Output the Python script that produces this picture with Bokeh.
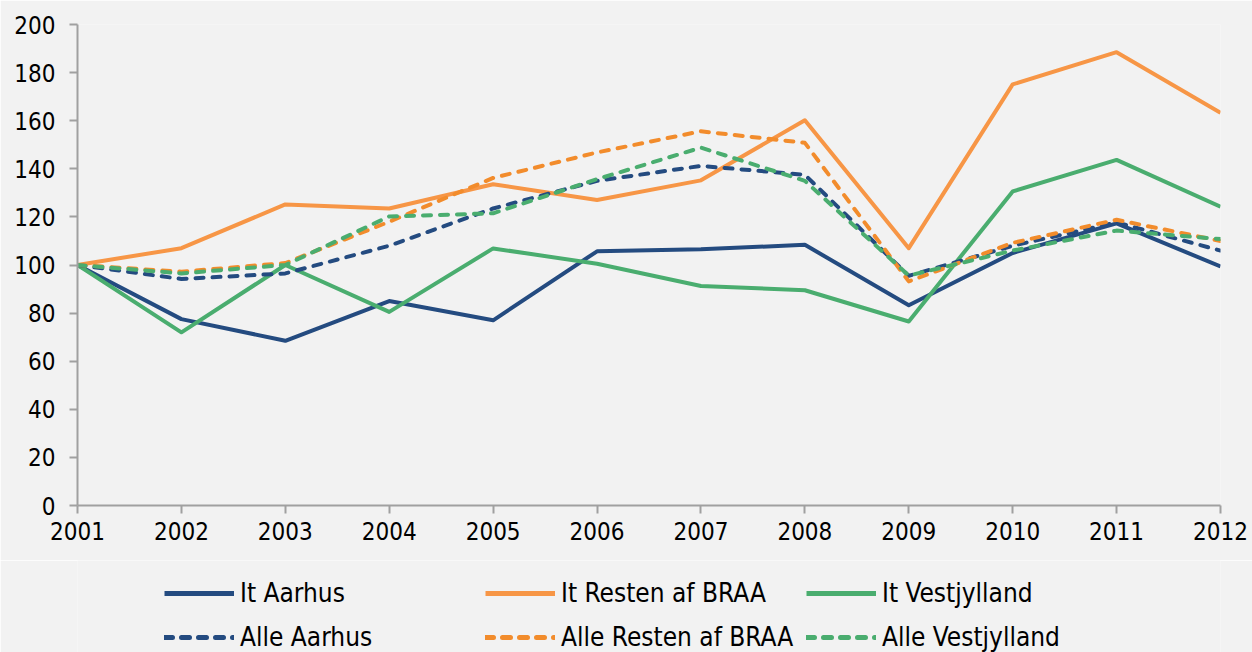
from bokeh.plotting import figure
from bokeh.layouts import column
from bokeh.models import Range1d, FixedTicker, Legend, LegendItem
from bokeh.embed import file_html
from bokeh.resources import INLINE

years = [2001, 2002, 2003, 2004, 2005, 2006, 2007, 2008, 2009, 2010, 2011, 2012]
year_labels = [str(y) for y in years]
y_ticks = [0, 20, 40, 60, 80, 100, 120, 140, 160, 180, 200]

it_aarhus = [100, 77.5, 68.5, 85, 77, 105.7, 106.5, 108.4, 83.3, 105, 117.3, 99.4]
it_resten = [100, 107, 125.2, 123.5, 133.6, 127, 135.2, 160.2, 107, 175.1, 188.5, 163.3]
it_vest = [100, 72, 100, 80.5, 106.9, 100.5, 91.3, 89.5, 76.5, 130.6, 143.7, 124.2]
alle_aarhus = [100, 94.2, 96.5, 108, 123.5, 135, 141.2, 137.5, 95.5, 108, 117.7, 106]
alle_resten = [100, 97.2, 100.8, 118, 136.2, 146.8, 155.6, 150.8, 93.2, 109.2, 118.8, 110]
alle_vest = [100, 96.5, 100, 120.2, 121.5, 135.7, 148.8, 135, 95.6, 106, 114.3, 110.8]

names = ["It Aarhus", "It Resten af BRAA", "It Vestjylland",
         "Alle Aarhus", "Alle Resten af BRAA", "Alle Vestjylland"]

BLUE = "#244B80"
ORANGE = "#F79646"
ORANGE_D = "#F28C2C"
GREEN = "#4AAD6F"
BG = "#F2F2F2"
FONT = "DejaVu Sans Condensed, DejaVu Sans"

p = figure(width=1252, height=560, output_backend="svg", toolbar_location=None,
           x_range=Range1d(2001, 2012), y_range=Range1d(0, 200),
           min_border_left=77, min_border_right=32, min_border_top=24, min_border_bottom=55)
p.background_fill_color = BG
p.border_fill_color = BG
p.outline_line_color = None
p.xgrid.visible = False
p.ygrid.visible = False

for ax in (p.xaxis[0], p.yaxis[0]):
    ax.axis_line_color = "#A0A0A0"
    ax.axis_line_width = 2
    ax.major_tick_line_color = "#A0A0A0"
    ax.major_tick_line_width = 2
    ax.minor_tick_line_color = None
    ax.major_tick_in = 0
    ax.major_tick_out = 8
    ax.major_label_text_font = FONT
    ax.major_label_text_font_size = "24px"
    ax.major_label_text_color = "#000000"

p.xaxis.ticker = FixedTicker(ticks=years)
p.xaxis.major_label_overrides = {y: l for y, l in zip(years, year_labels)}
p.xaxis.major_label_standoff = 8
p.yaxis.ticker = FixedTicker(ticks=y_ticks)
p.yaxis.major_label_standoff = 14

series = [
    (it_aarhus, BLUE, None),
    (it_resten, ORANGE, None),
    (it_vest, GREEN, None),
    (alle_aarhus, BLUE, "8 9"),
    (alle_resten, ORANGE_D, "8 9"),
    (alle_vest, GREEN, "8 9"),
]

# legend panel: separate figure below the chart (its frame aligns with the chart's frame)
lf = figure(width=1252, height=92, output_backend="svg", toolbar_location=None,
            x_axis_location=None, y_axis_location=None,
            x_range=Range1d(0, 1), y_range=Range1d(0, 1),
            min_border_left=0, min_border_right=0, min_border_top=0, min_border_bottom=0)
lf.background_fill_color = BG
lf.border_fill_color = BG
lf.outline_line_color = None
lf.xgrid.visible = False
lf.ygrid.visible = False

leg_renderers = []
for vals, col, dash in series:
    kw = dict(line_color=col, line_join="round")
    if dash is None:
        kw.update(line_width=4)
    else:
        kw.update(line_width=4, line_dash=dash, line_cap="round")
    p.line(years, vals, **kw)
    lw = dict(kw)
    lw["line_width"] = 5
    # same data, outside this panel's ranges: only its legend glyph shows
    leg_renderers.append(lf.line(years, vals, **lw))

def make_legend(idx, loc):
    items = [LegendItem(label=names[i], renderers=[leg_renderers[i]]) for i in idx]
    return Legend(items=items, location=loc, orientation="horizontal",
                  glyph_width=70, glyph_height=28, label_height=28, label_width=240,
                  label_standoff=6, spacing=5, padding=0, margin=0,
                  border_line_color=None, background_fill_alpha=0,
                  label_text_font=FONT, label_text_font_size="26px",
                  label_text_color="#000000")

lf.add_layout(make_legend([0, 1, 2], (87, 44)), "center")
lf.add_layout(make_legend([3, 4, 5], (87, 0)), "center")

layout = column(p, lf, spacing=0)
open("out.html", "w").write(file_html(layout, INLINE))
